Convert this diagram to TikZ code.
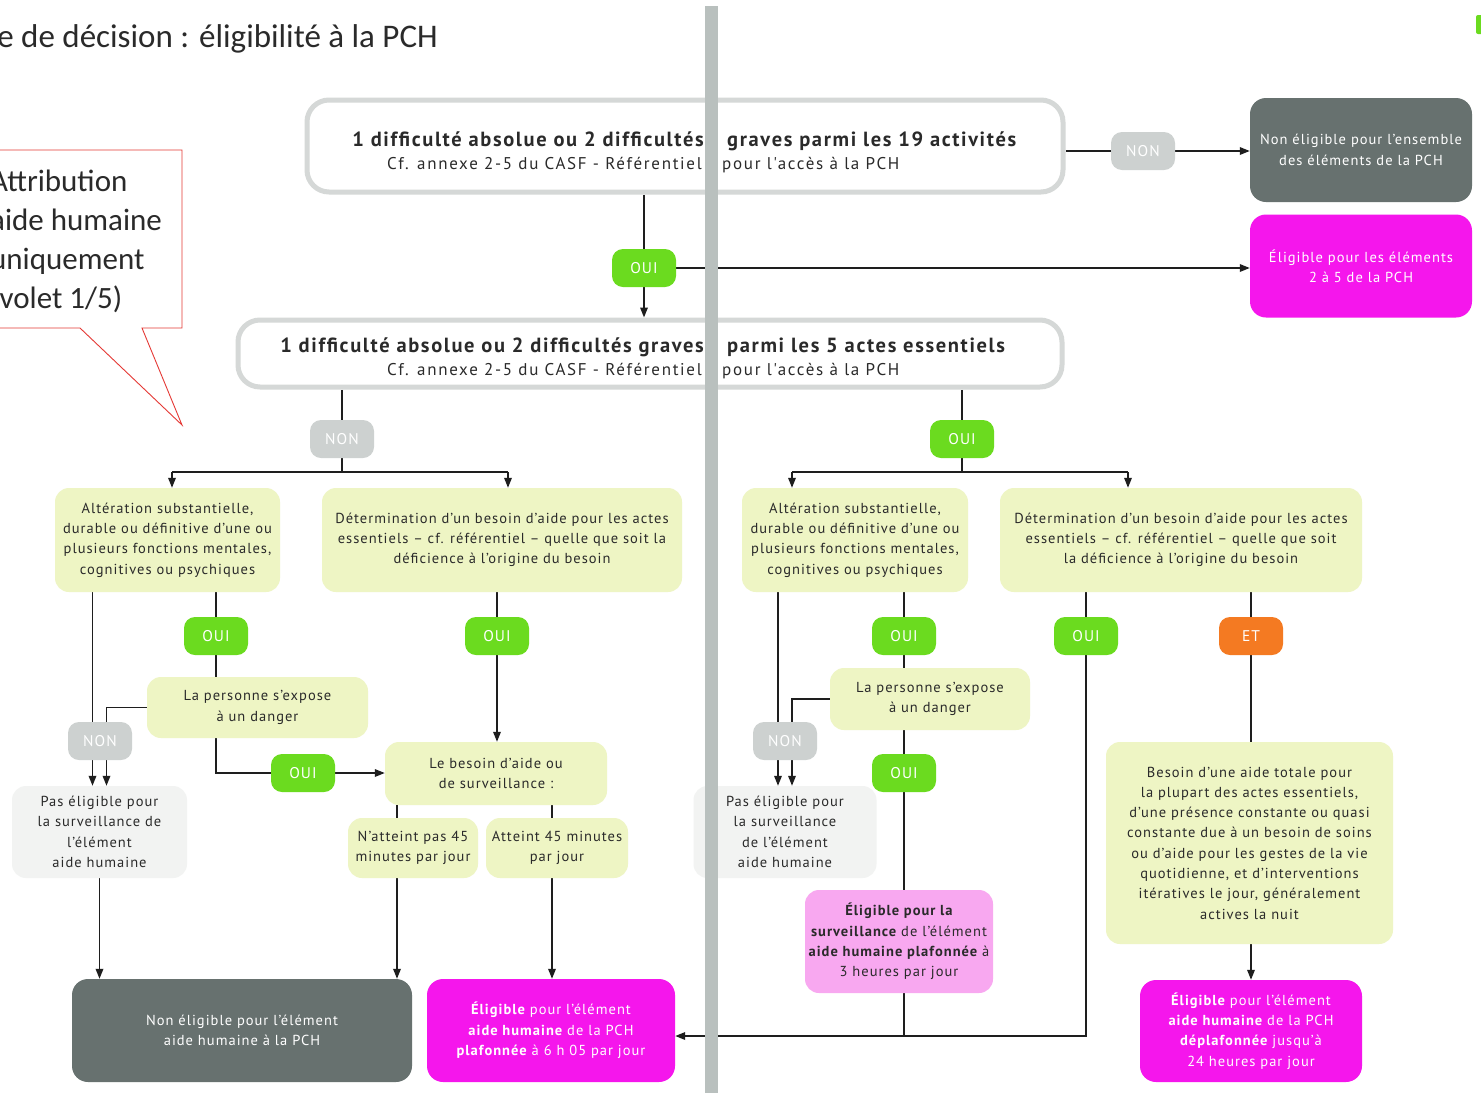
\documentclass[tikz,border=0pt]{standalone}
\usepackage{fontspec}
\setmainfont{PT Sans}[LetterSpace=7]
\newfontfamily\hdfont{PT Sans}[LetterSpace=8]
\newfontfamily\subfont{PT Sans}[LetterSpace=10]
\newfontfamily\calfont{Carlito}
\usetikzlibrary{arrows.meta}
\definecolor{lgreen}{HTML}{EEF5C4}
\definecolor{paleg}{HTML}{F2F3F2}
\definecolor{vert}{HTML}{6BDB1F}
\definecolor{grispill}{HTML}{CDD1D0}
\definecolor{darkg}{HTML}{67716F}
\definecolor{mag}{HTML}{F516EC}
\definecolor{pinkl}{HTML}{F8A8F0}
\definecolor{orng}{HTML}{F47A22}
\definecolor{bordergray}{HTML}{D5D8D7}
\definecolor{barcol}{HTML}{B9C0BE}
\definecolor{calred}{HTML}{E53935}
\definecolor{txt}{HTML}{2A2A2A}
\definecolor{lineblack}{HTML}{1E1E1E}
\newcommand\boxfont{\fontsize{14.5}{20.3}\selectfont}
\newcommand\pillfont{\fontsize{15.5}{18}\selectfont}
\pgfdeclarelayer{back}
\pgfdeclarelayer{bg}
\pgfsetlayers{back,bg,main}
\begin{document}
\begin{tikzpicture}[x=1pt,y=-1pt,
  conn/.style={line width=1.7pt, draw=lineblack},
  arr/.style={conn, -{Triangle[length=10pt,width=7.5pt]}},
  hbox/.style={draw=bordergray, line width=5pt, fill=white, rounded corners=22pt, inner sep=0pt},
  hdtxt/.style={inner sep=0pt, text=txt, font=\hdfont\fontsize{20.5}{24}\selectfont\bfseries},
  subtxt/.style={inner sep=0pt, text=txt, font=\subfont\fontsize{17}{22}\selectfont},
  gbox/.style={fill=lgreen, rounded corners=14pt, inner sep=0pt, align=center, font=\boxfont, text=txt},
  pbox/.style={gbox, fill=paleg},
  dbox/.style={fill=darkg, rounded corners=16pt, inner sep=0pt, align=center, font=\boxfont, text=white},
  mbox/.style={dbox, fill=mag},
  pill/.style={rounded corners=11pt, minimum width=64pt, minimum height=38pt, inner sep=0pt, text=white, font=\pillfont},
  caltxt/.style={inner sep=0pt, anchor=base west, font=\calfont\fontsize{31}{36}\selectfont, text=txt}
]
\useasboundingbox (0,0) rectangle (1481,1093);
\begin{pgfonlayer}{back}
\fill[white] (0,0) rectangle (1481,1093);
\end{pgfonlayer}

\begin{scope}
\clip (0,0) rectangle (1481,1093);
% title
\node[inner sep=0pt, anchor=base east, font=\calfont\fontsize{33}{36}\selectfont, text=txt] (title) at (438,47) {Arbre de décision : éligibilité à la PCH};
% callout
\draw[calred, line width=0.9pt, fill=white] (-5,150) -- (182,150) -- (182,328) -- (142,328) -- (182,425) -- (80,328) -- (-5,328);
\node[caltxt] (c1) at (-10,191) {Attribution};
\node[caltxt] (c2) at (-10,230) {aide humaine};
\node[caltxt] (c3) at (-10,269) {uniquement};
\node[caltxt] (c4) at (-10,308) {(volet 1/5)};
\end{scope}

% header boxes
\node[hbox, minimum width=756, minimum height=92] (top) at (685,146) {};
\node[hdtxt, anchor=base east] (t1a) at (704,146) {1 difficulté absolue ou 2 difficultés};
\node[hdtxt, anchor=base west] (t1b) at (727,146) {graves parmi les 19 activités};
\node[subtxt, anchor=base east] (t1c) at (702,169) {Cf. annexe 2-5 du CASF - Référentiel};
\node[subtxt, anchor=base west] (t1d) at (722,169) {pour l'accès à la PCH};

\node[hbox, minimum width=824, minimum height=67] (second) at (650,353.5) {};
\node[hdtxt, anchor=base east] (t2a) at (704,352) {1 difficulté absolue ou 2 difficultés graves};
\node[hdtxt, anchor=base west] (t2b) at (727,352) {parmi les 5 actes essentiels};
\node[subtxt, anchor=base east] (t2c) at (702,375) {Cf. annexe 2-5 du CASF - Référentiel};
\node[subtxt, anchor=base west] (t2d) at (722,375) {pour l'accès à la PCH};

% right result boxes
\node[dbox, minimum width=222, minimum height=104] (nonall) at (1361,150) {Non éligible pour l'ensemble\\des éléments de la PCH};
\node[mbox, minimum width=222, minimum height=103] (elig25) at (1361,266) {Éligible pour les éléments\\2 à 5 de la PCH};

% pills
\node[pill, fill=grispill] (non0) at (1143,151) {NON};
\node[pill, fill=vert] (oui0) at (644,268) {OUI};
\node[pill, fill=grispill] (non1) at (342,439) {NON};
\node[pill, fill=vert] (oui1) at (962,439) {OUI};
\node[pill, fill=vert] (ouiA1) at (216,636) {OUI};
\node[pill, fill=vert] (ouiB1) at (497,636) {OUI};
\node[pill, fill=grispill] (nonA1) at (100,741) {NON};
\node[pill, fill=vert] (ouiD1) at (303,773) {OUI};
\node[pill, fill=vert] (ouiA2) at (904,636) {OUI};
\node[pill, fill=grispill] (nonA2) at (785,741) {NON};
\node[pill, fill=vert] (ouiD2) at (904,773) {OUI};
\node[pill, fill=vert] (ouiB2) at (1086,636) {OUI};
\node[pill, fill=orng] (et) at (1251,636) {ET};

% left column
\node[gbox, minimum width=225, minimum height=104] (A1) at (167.5,540) {Altération substantielle,\\durable ou définitive d'une ou\\plusieurs fonctions mentales,\\cognitives ou psychiques};
\node[gbox, minimum width=360, minimum height=104] (B1) at (502,540) {Détermination d'un besoin d'aide pour les actes\\essentiels – cf. référentiel – quelle que soit la\\déficience à l'origine du besoin};
\node[gbox, minimum width=221, minimum height=61] (dang1) at (257.5,707.5) {La personne s'expose\\à un danger};
\node[gbox, minimum width=222, minimum height=63] (besoin) at (496,773.5) {Le besoin d'aide ou\\de surveillance :};
\node[gbox, minimum width=130, minimum height=60] (natt) at (413,848) {N'atteint pas 45\\minutes par jour};
\node[gbox, minimum width=142, minimum height=60] (att) at (557,848) {Atteint 45 minutes\\par jour};
\node[pbox, minimum width=175, minimum height=92] (pas1) at (99.5,832) {Pas éligible pour\\la surveillance de\\l'élément\\aide humaine};
\node[dbox, minimum width=340, minimum height=103] (nonAH) at (242,1030.5) {Non éligible pour l'élément\\aide humaine à la PCH};
\node[mbox, minimum width=248, minimum height=103] (elig605) at (551,1030.5) {{\bfseries Éligible} pour l'élément\\{\bfseries aide humaine} de la PCH\\{\bfseries plafonnée} à 6 h 05 par jour};

% right column
\node[gbox, minimum width=226, minimum height=104] (A2) at (855,540) {Altération substantielle,\\durable ou définitive d'une ou\\plusieurs fonctions mentales,\\cognitives ou psychiques};
\node[gbox, minimum width=362, minimum height=104] (B2) at (1181,540) {Détermination d'un besoin d'aide pour les actes\\essentiels – cf. référentiel – quelle que soit\\la déficience à l'origine du besoin};
\node[gbox, minimum width=200, minimum height=62] (dang2) at (930,699) {La personne s'expose\\à un danger};
\node[pbox, minimum width=183, minimum height=92] (pas2) at (785,832) {Pas éligible pour\\la surveillance\\de l'élément\\aide humaine};
\node[gbox, fill=pinkl, minimum width=188, minimum height=103] (surv) at (899,941.5) {{\bfseries Éligible pour la}\\{\bfseries surveillance} de l'élément\\{\bfseries aide humaine plafonnée} à\\3 heures par jour};
\node[gbox, minimum width=287, minimum height=202] (besT) at (1249.5,843) {Besoin d'une aide totale pour\\la plupart des actes essentiels,\\d'une présence constante ou quasi\\constante due à un besoin de soins\\ou d'aide pour les gestes de la vie\\quotidienne, et d'interventions\\itératives le jour, généralement\\actives la nuit};
\node[mbox, minimum width=222, minimum height=102] (elig24) at (1251,1031) {{\bfseries Éligible} pour l'élément\\{\bfseries aide humaine} de la PCH\\{\bfseries déplafonnée} jusqu'à\\24 heures par jour};

% named points
\coordinate (s1L) at (172,472);
\coordinate (s1R) at (508,472);
\coordinate (s2L) at (792,472);
\coordinate (s2R) at (1128,472);
\coordinate (pa1) at ([xshift=-7pt]pas1.north);
\coordinate (pb1) at ([xshift=7pt]pas1.north);
\coordinate (pa2) at ([xshift=-7pt]pas2.north);
\coordinate (pb2) at ([xshift=7pt]pas2.north);
\coordinate (n1) at ([xshift=-16pt]natt.south);
\coordinate (n2) at ([xshift=-5pt]att.south);
\coordinate (yc) at (0,1036);

\begin{pgfonlayer}{bg}
% top
\draw[conn] (top.east |- non0.west) -- (non0.west);
\draw[arr] (non0.east) -- (nonall.west |- non0.east);
\draw[conn] (oui0.north |- top.south) -- (oui0.north);
\draw[arr] (oui0.south) -- (oui0.south |- second.north);
\draw[arr] (oui0.east) -- (elig25.west |- oui0.east);
% left split
\draw[conn] (non1.north |- second.south) -- (non1 |- s1L);
\draw[conn] (s1L) -- (s1R);
\draw[arr] (s1L) -- (s1L |- A1.north);
\draw[arr] (s1R) -- (s1R |- B1.north);
% right split
\draw[conn] (oui1.north |- second.south) -- (oui1 |- s2L);
\draw[conn] (s2L) -- (s2R);
\draw[arr] (s2L) -- (s2L |- A2.north);
\draw[arr] (s2R) -- (s2R |- B2.north);
% left column
\draw[arr] (pa1 |- A1.south) -- (pa1);
\draw[arr] (dang1.west) -| (pb1);
\draw[conn] (ouiA1 |- A1.south) -- (ouiA1 |- dang1.north);
\draw[conn] (ouiA1 |- dang1.south) |- (ouiD1.west);
\draw[arr] (ouiD1.east) -- (besoin.west |- ouiD1.east);
\draw[arr] (ouiB1 |- B1.south) -- (ouiB1 |- besoin.north);
\draw[conn, line width=1.1pt] (n1 |- besoin.south) -- (n1 |- natt.north);
\draw[conn, line width=1.1pt] (n2 |- besoin.south) -- (n2 |- att.north);
\draw[arr] (n1) -- (n1 |- nonAH.north);
\draw[arr] (n2) -- (n2 |- elig605.north);
\draw[arr] (pas1.south) -- (pas1.south |- nonAH.north);
% right column
\draw[arr] (pa2 |- A2.south) -- (pa2);
\draw[arr] (dang2.west) -| (pb2);
\draw[conn] (ouiA2 |- A2.south) -- (ouiA2 |- dang2.north);
\draw[conn] (ouiD2 |- dang2.south) -- (ouiD2 |- surv.north);
\draw[conn] (ouiD2 |- surv.south) -- (ouiD2 |- yc);
\draw[arr] (ouiB2 |- B2.south) |- (elig605.east |- yc);
\draw[conn] (et |- B2.south) -- (et |- besT.north);
\draw[arr] (besT.south -| et) -- (et |- elig24.north);
\end{pgfonlayer}

% vertical bar on top
\fill[barcol] (705,6) rectangle (718,1093);
% corner mark
\fill[vert, rounded corners=2pt] (1476,15) rectangle (1484,34);
\end{tikzpicture}
\end{document}
